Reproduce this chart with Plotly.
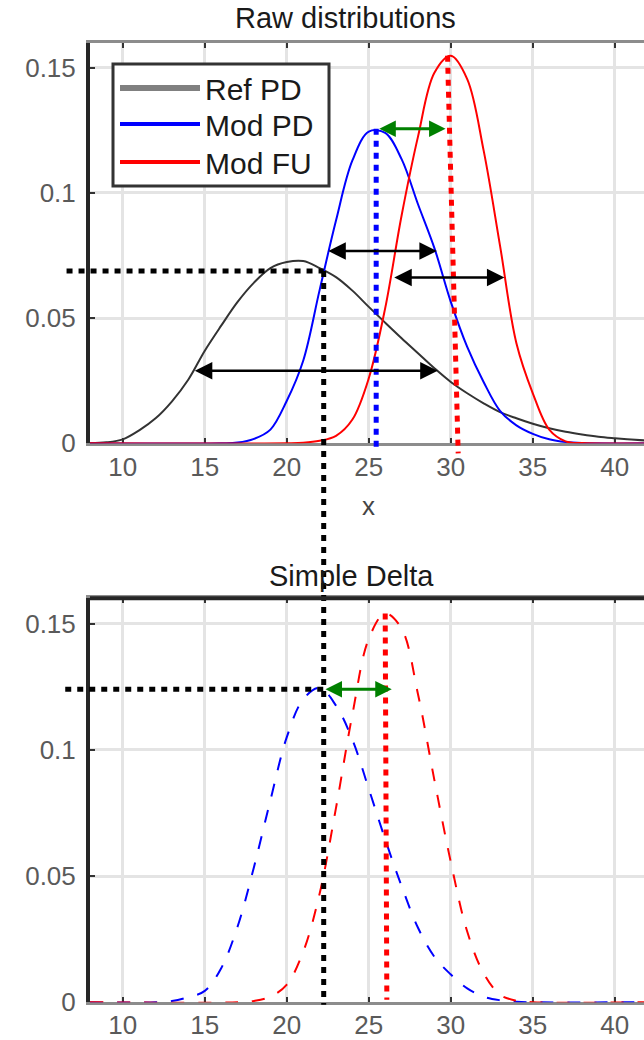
import plotly.graph_objects as go

# ---------------- data ----------------
x_ticks = [10, 15, 20, 25, 30, 35, 40]
x_tick_labels = ["10", "15", "20", "25", "30", "35", "40"]
y_ticks = [0, 0.05, 0.1, 0.15]
y_tick_labels = ["0", "0.05", "0.1", "0.15"]

# Raw distributions
ref_pd_x = [8, 9, 10, 11, 12, 13, 14, 15, 16, 17, 18, 19, 20, 21, 22, 23, 24, 25,
            26, 27, 28, 29, 30, 31, 32, 33, 34, 35, 36, 37, 38, 39, 40, 41, 42]
ref_pd_y = [0.0001, 0.0004, 0.0016, 0.0052, 0.0100, 0.0168, 0.0255, 0.0370, 0.0470,
            0.0565, 0.0642, 0.0700, 0.0724, 0.0728, 0.0700, 0.0664, 0.0610, 0.0545,
            0.0482, 0.0420, 0.0360, 0.0300, 0.0245, 0.0200, 0.0160, 0.0125, 0.0100,
            0.0078, 0.0060, 0.0046, 0.0035, 0.0026, 0.0020, 0.0015, 0.0011]

mod_pd_x = [8, 16, 17, 18, 19, 20, 21, 22, 23, 24, 25, 26, 27, 28, 29, 30, 31, 32,
            33, 34, 35, 36, 37, 38, 42]
mod_pd_y = [0.0, 0.0, 0.0003, 0.0018, 0.0055, 0.0170, 0.0330, 0.0612, 0.0890, 0.1130,
            0.1245, 0.1240, 0.1135, 0.0955, 0.0780, 0.0565, 0.0385, 0.0245, 0.0130,
            0.0072, 0.0038, 0.0016, 0.0005, 0.0001, 0.0]

mod_fu_x = [8, 20, 21, 22, 23, 24, 25, 26, 27, 28, 29, 30, 31, 32, 33, 34, 35, 36,
            37, 38, 42]
mod_fu_y = [0.0, 0.0, 0.0002, 0.0010, 0.0030, 0.0095, 0.0260, 0.0540, 0.0910, 0.1225,
            0.1480, 0.1548, 0.1455, 0.1170, 0.0790, 0.0400, 0.0200, 0.0055, 0.0008,
            0.0001, 0.0]

# Simple Delta
delta_pd_x = [8, 12, 13, 14, 15, 16, 17, 18, 19, 20, 21, 22, 23, 24, 25, 26, 27, 28,
              29, 30, 31, 32, 33, 34, 35, 42]
delta_pd_y = [0.0, 0.0, 0.0005, 0.0020, 0.0045, 0.0135, 0.0300, 0.0536, 0.0800, 0.1050,
              0.1200, 0.1245, 0.1175, 0.1040, 0.0845, 0.0645, 0.0460, 0.0295, 0.0180,
              0.0110, 0.0055, 0.0022, 0.0008, 0.0002, 0.0, 0.0]

delta_fu_x = [8, 17, 18, 19, 20, 21, 22, 23, 24, 25, 26, 27, 28, 29, 30, 31, 32, 33,
              34, 35, 42]
delta_fu_y = [0.0, 0.0, 0.0005, 0.0022, 0.0070, 0.0200, 0.0430, 0.0770, 0.1140, 0.1440,
              0.1540, 0.1480, 0.1220, 0.0880, 0.0555, 0.0280, 0.0115, 0.0030, 0.0006,
              0.0, 0.0]

legend_names = ["Ref PD", "Mod PD", "Mod FU"]
legend_colors = ["#808080", "#0000ff", "#ff0000"]

# width / shift arrows: (x_start, x_end, y)
ref_width_arrow = [14.3, 29.2, 0.029]
pd_width_arrow = [22.44, 29.15, 0.0768]
fu_width_arrow = [26.46, 33.27, 0.0662]
raw_shift_arrow = [25.55, 29.68, 0.1256]
delta_shift_arrow = [22.27, 26.4, 0.124]

# dotted guide lines: (x0, y0, x1, y1)
raw_pd_mode_line = [25.45, 0.1256, 25.45, -0.003]
raw_fu_mode_line = [29.8, 0.1548, 30.45, -0.004]
delta_fu_mode_line = [26.0, 0.154, 26.1, 0.001]
ref_level_line = [6.57, 0.0688, 22.25, 0.0688]
delta_level_line = [6.49, 0.124, 22.25, 0.124]
cross_line_x = 22.25
cross_line_top_y = 0.0688
cross_line_bottom_y = -0.001

# ---------------- layout constants ----------------
W, H = 644, 1040
ML = 90
X_RANGE = [8, 41.78]
Y_RANGE = [0, 0.16]
TOP_DOM = [0.5737, 0.9589]
BOT_DOM = [0.0363, 0.4247]
FONT = "Liberation Sans, Arial, sans-serif"


def frac(v, r):
    return (v - r[0]) / (r[1] - r[0])


def paper_y(v, dom):
    return dom[0] + frac(v, Y_RANGE) * (dom[1] - dom[0])


def px_x(p):
    return (p - ML) / (W - ML)


def px_y(p):
    return 1 - p / H


fig = go.Figure()

line_kw = dict(mode="lines", line_shape="spline", showlegend=False, hoverinfo="skip")
fig.add_trace(go.Scatter(x=ref_pd_x, y=ref_pd_y, name=legend_names[0],
                         line=dict(color="#333333", width=2), xaxis="x", yaxis="y", **line_kw))
fig.add_trace(go.Scatter(x=mod_pd_x, y=mod_pd_y, name=legend_names[1],
                         line=dict(color="#0000ff", width=2), xaxis="x", yaxis="y", **line_kw))
fig.add_trace(go.Scatter(x=mod_fu_x, y=mod_fu_y, name=legend_names[2],
                         line=dict(color="#ff0000", width=2), xaxis="x", yaxis="y", **line_kw))
fig.add_trace(go.Scatter(x=delta_pd_x, y=delta_pd_y,
                         line=dict(color="#0000ff", width=2, dash="13px,14px"),
                         xaxis="x2", yaxis="y2", **line_kw))
fig.add_trace(go.Scatter(x=delta_fu_x, y=delta_fu_y,
                         line=dict(color="#ff0000", width=2, dash="13px,14px"),
                         xaxis="x2", yaxis="y2", **line_kw))

DOT = "6px,6px"
shapes = []


def dotted(color, xref, yref, x0, y0, x1, y1):
    shapes.append(dict(type="line", xref=xref, yref=yref, x0=x0, y0=y0, x1=x1, y1=y1,
                       line=dict(color=color, width=5, dash=DOT), layer="above"))


dotted("#0000ff", "x", "y domain", raw_pd_mode_line[0], frac(raw_pd_mode_line[1], Y_RANGE),
       raw_pd_mode_line[2], frac(raw_pd_mode_line[3], Y_RANGE))
dotted("#ff0000", "x", "y domain", raw_fu_mode_line[0], frac(raw_fu_mode_line[1], Y_RANGE),
       raw_fu_mode_line[2], frac(raw_fu_mode_line[3], Y_RANGE))
dotted("#ff0000", "x2", "y2 domain", delta_fu_mode_line[0], frac(delta_fu_mode_line[1], Y_RANGE),
       delta_fu_mode_line[2], frac(delta_fu_mode_line[3], Y_RANGE))
dotted("#000000", "x domain", "y", frac(ref_level_line[0], X_RANGE), ref_level_line[1],
       frac(ref_level_line[2], X_RANGE), ref_level_line[3])
dotted("#000000", "x2 domain", "y2", frac(delta_level_line[0], X_RANGE), delta_level_line[1],
       frac(delta_level_line[2], X_RANGE), delta_level_line[3])
dotted("#000000", "x", "paper", cross_line_x, paper_y(cross_line_top_y, TOP_DOM),
       cross_line_x, paper_y(cross_line_bottom_y, BOT_DOM))
# black top border of lower axes
shapes.append(dict(type="line", xref="x2 domain", yref="y2 domain", x0=0, x1=1, y0=1, y1=1,
                   line=dict(color="#262626", width=4), layer="above"))

annotations = []

# legend box (drawn by hand so that the row spacing matches)
shapes.append(dict(type="rect", xref="paper", yref="paper", x0=px_x(113), x1=px_x(329),
                   y0=px_y(186), y1=px_y(64), fillcolor="white",
                   line=dict(color="#333333", width=3), layer="above"))
legend_rows_px = [88, 124, 162]
legend_widths = [6, 4, 4]
for name, color, lw, row in zip(legend_names, legend_colors, legend_widths, legend_rows_px):
    shapes.append(dict(type="line", xref="paper", yref="paper", x0=px_x(120), x1=px_x(200),
                       y0=px_y(row), y1=px_y(row), line=dict(color=color, width=lw), layer="above"))
    annotations.append(dict(text=name, xref="paper", yref="paper", x=px_x(203), y=px_y(row + 1),
                            showarrow=False, xanchor="left", yanchor="middle",
                            font=dict(size=30, color="#1a1a1a", family=FONT)))


def arrow(spec, color, xref, yref, width, size):
    x0, x1, y = spec
    annotations.append(dict(x=x1, y=y, ax=x0, ay=y, xref=xref, yref=yref, axref=xref, ayref=yref,
                            text="", showarrow=True, arrowhead=2, startarrowhead=2,
                            arrowside="end+start", arrowwidth=width, arrowsize=size,
                            startarrowsize=size, arrowcolor=color, standoff=0, startstandoff=0))


arrow(ref_width_arrow, "#000000", "x", "y", 2.5, 1.4)
arrow(pd_width_arrow, "#000000", "x", "y", 2.5, 1.4)
arrow(fu_width_arrow, "#000000", "x", "y", 2.5, 1.4)
arrow(raw_shift_arrow, "#008000", "x", "y", 3, 1.1)
arrow(delta_shift_arrow, "#008000", "x2", "y2", 3, 1.1)

annotations.append(dict(text="Raw distributions", xref="paper", yref="paper", x=px_x(345),
                        y=px_y(18), showarrow=False, font=dict(size=29, color="#1a1a1a", family=FONT),
                        xanchor="center", yanchor="middle"))
annotations.append(dict(text="Simple Delta", xref="paper", yref="paper", x=px_x(351),
                        y=px_y(576), showarrow=False, font=dict(size=29, color="#1a1a1a", family=FONT),
                        xanchor="center", yanchor="middle"))
annotations.append(dict(text="x", xref="x", yref="paper", x=25, y=px_y(506), showarrow=False,
                        font=dict(size=26, color="#444444", family=FONT), xanchor="center", yanchor="middle"))

xaxis_common = dict(range=X_RANGE, tickvals=x_ticks, ticktext=x_tick_labels, showgrid=True,
                    gridcolor="#e4e4e4", gridwidth=3, zeroline=False, showline=True,
                    linecolor="#8c8c8c", linewidth=3, mirror="ticks", ticks="inside", ticklen=5,
                    tickwidth=2, tickcolor="#333333", layer="below traces",
                    tickfont=dict(size=26, color="#5a5a5a", family=FONT), ticklabelstandoff=-2,
                    automargin=False, fixedrange=True)
yaxis_common = dict(range=Y_RANGE, tickvals=y_ticks, ticktext=y_tick_labels, showgrid=True,
                    gridcolor="#e4e4e4", gridwidth=3, zeroline=False, showline=True,
                    linecolor="#262626", linewidth=4, ticks="inside", ticklen=5, tickwidth=2,
                    tickcolor="#333333", layer="below traces",
                    tickfont=dict(size=26, color="#5a5a5a", family=FONT), ticklabelstandoff=5,
                    automargin=False, fixedrange=True)

fig.update_layout(
    width=W, height=H,
    margin=dict(l=ML, r=0, t=0, b=0),
    paper_bgcolor="white", plot_bgcolor="white",
    font=dict(family=FONT),
    xaxis=dict(domain=[0, 1], anchor="y", **xaxis_common),
    yaxis=dict(domain=TOP_DOM, anchor="x", **yaxis_common),
    xaxis2=dict(domain=[0, 1], anchor="y2", **xaxis_common),
    yaxis2=dict(domain=BOT_DOM, anchor="x2", **yaxis_common),
    shapes=shapes,
    annotations=annotations,
    showlegend=False,
)

fig.write_html("out.html")
